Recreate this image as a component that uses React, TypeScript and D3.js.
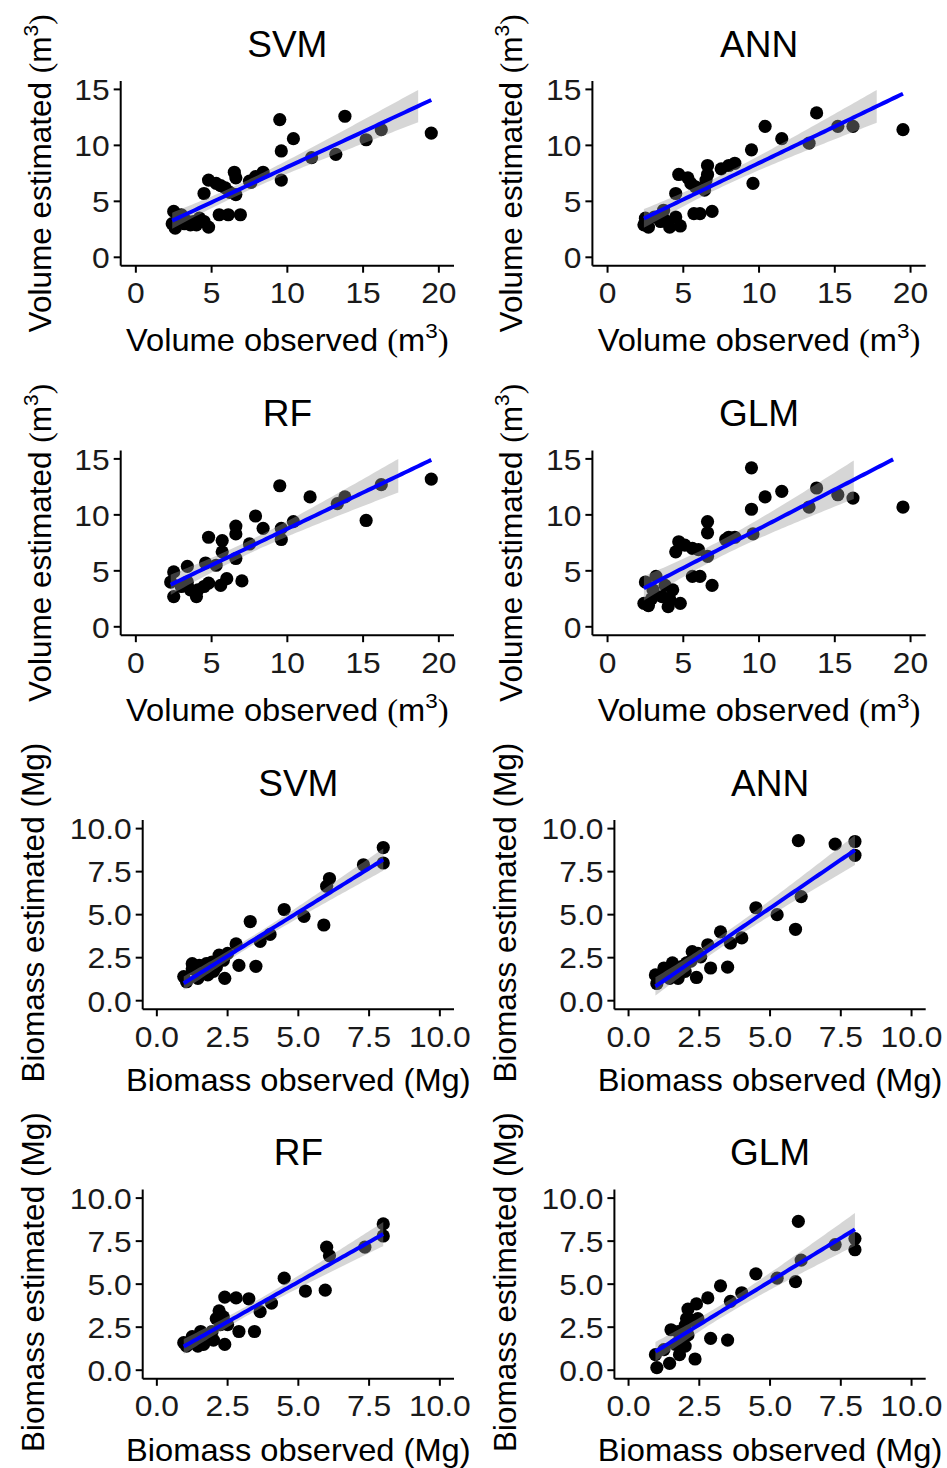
import React from 'react';
import * as d3 from 'd3';

// ---------- data (observed, estimated) ----------
const volSvmObs = [2.5,2.4,2.6,2.9,3.0,3.3,3.6,3.8,4.0,4.2,4.5,4.8,4.5,4.8,5.3,5.6,5.9,6.2,6.5,6.6,6.6,5.5,6.1,6.9,7.6,7.9,8.4,7.5,9.5,9.6,9.6,10.4,11.6,13.2,13.8,15.2,16.2,19.5,3.2,2.8];
const volSvmEst = [4.1,3.0,2.6,3.6,3.8,3.3,2.9,3.2,2.9,3.5,3.2,2.7,5.7,6.9,6.6,6.4,6.2,5.8,7.6,7.1,5.6,3.8,3.8,3.8,6.7,7.2,7.6,6.8,12.3,9.5,6.9,10.6,8.9,9.2,12.6,10.5,11.4,11.1,3.0,3.4];

const volAnnObs = [13.8,10.4,11.5,19.5,15.2,16.2,13.3,9.5,9.6,8.4,8.0,7.5,6.6,6.6,6.5,6.4,4.7,5.3,5.5,5.8,4.5,5.7,6.1,6.9,2.5,2.4,2.7,3.1,3.7,3.8,4.1,4.5,4.8,3.5];
const volAnnEst = [12.9,11.7,10.6,11.4,11.7,11.7,10.2,9.6,6.6,8.4,8.2,7.9,8.2,7.4,6.9,6.0,7.4,7.1,6.6,6.3,5.7,3.9,3.9,4.1,3.5,2.9,2.7,3.6,4.2,3.3,2.7,3.6,2.8,3.2];

const volRfObs = [9.5,11.5,19.5,15.2,16.2,13.8,13.3,10.4,9.6,9.6,7.9,8.4,7.5,6.6,6.6,6.6,5.7,4.8,5.7,5.3,4.6,3.4,2.5,2.3,2.5,3.0,3.4,4.0,4.1,4.8,5.6,6.0,7.0,3.6,4.5];
const volRfEst = [12.6,11.6,13.2,9.5,12.7,11.6,11.0,9.4,8.8,7.8,9.9,8.8,7.4,9.0,8.3,6.1,7.7,8.0,6.7,5.5,5.7,5.4,4.9,4.0,2.7,3.6,4.0,2.7,3.3,3.9,3.7,4.3,4.1,3.3,3.6];

const volGlmObs = [9.5,10.4,11.5,19.5,13.8,15.2,16.2,13.3,9.5,9.6,8.4,7.8,8.0,6.6,6.6,6.6,6.0,5.6,5.1,4.7,4.5,5.6,6.1,6.9,2.5,3.2,2.4,2.7,4.0,4.8,3.6,4.3,3.0,3.8,4.1,2.9];
const volGlmEst = [14.2,11.6,12.1,10.7,12.4,11.8,11.5,10.7,10.5,8.3,8.0,7.8,8.0,9.4,8.4,6.3,6.9,7.0,7.3,7.6,6.7,4.5,4.5,3.7,4.0,4.5,2.1,1.9,1.8,2.1,2.7,3.3,3.3,3.7,2.5,2.5];

const bioSvmObs = [8.0,8.0,7.3,6.1,6.0,5.9,5.2,4.5,3.3,4.0,3.65,3.5,2.9,2.8,2.4,2.5,2.2,2.35,1.95,2.0,1.5,1.65,1.25,1.45,0.95,1.05,1.25,1.75,2.1,1.8];
const bioSvmEst = [8.9,8.0,7.9,7.1,6.65,4.4,4.9,5.3,4.6,3.85,3.45,2.0,2.05,3.3,1.3,2.75,2.65,2.35,2.25,1.7,2.05,1.7,1.85,1.3,1.4,1.1,2.15,2.15,1.95,1.5];

const bioAnnObs = [6.0,7.3,8.0,8.0,6.1,5.9,5.25,4.5,3.25,4.0,3.6,3.5,2.9,2.8,2.4,2.45,2.25,2.55,2.05,2.0,1.55,1.65,1.25,1.45,0.95,1.0,1.9,1.75,1.2,2.2];
const bioAnnEst = [9.3,9.1,9.25,8.45,6.05,4.15,5.0,5.4,4.0,3.65,3.35,1.95,1.9,3.25,1.35,2.75,2.85,2.55,2.2,1.7,2.2,1.7,1.9,1.3,1.5,1.0,2.0,1.3,1.5,2.3];

const bioRfObs = [8.0,8.0,7.35,6.0,6.1,5.95,5.25,4.5,4.05,3.65,3.25,3.45,2.9,2.8,2.4,2.4,2.2,2.25,2.5,1.95,2.0,1.55,1.65,1.25,1.45,0.95,1.05,1.8,2.1,2.35];
const bioRfEst = [8.5,7.8,7.15,7.15,6.65,4.65,4.6,5.35,3.9,3.4,4.15,2.25,2.25,4.2,4.25,1.5,3.45,2.65,2.65,2.25,1.75,2.25,1.5,1.95,1.4,1.6,1.4,1.85,3.0,3.1];

const bioGlmObs = [6.0,7.3,8.0,8.0,6.1,5.9,5.25,4.5,3.25,4.0,3.6,3.5,2.9,2.8,2.4,2.35,2.1,2.45,1.5,1.0,0.95,1.45,1.8,2.0,2.1,1.8,2.0,2.25,1.25,1.65,1.75,2.05];
const bioGlmEst = [8.65,7.3,7.65,7.0,6.4,5.15,5.35,5.6,4.9,4.5,4.0,1.75,1.85,4.2,3.85,0.65,3.55,3.0,2.35,0.15,0.9,0.4,0.9,1.4,2.05,1.75,2.6,2.9,1.2,1.5,2.25,3.0];

const volTicks = [0, 5, 10, 15, 20];
const volYTicks = [0, 5, 10, 15];
const bioTicks = [0, 2.5, 5, 7.5, 10];
const volLimits = [0, 15];
const bioLimits = [0, 10];

const panels = [
  { title: 'SVM', kind: 'vol', obs: volSvmObs, est: volSvmEst },
  { title: 'ANN', kind: 'vol', obs: volAnnObs, est: volAnnEst },
  { title: 'RF', kind: 'vol', obs: volRfObs, est: volRfEst },
  { title: 'GLM', kind: 'vol', obs: volGlmObs, est: volGlmEst },
  { title: 'SVM', kind: 'bio', obs: bioSvmObs, est: bioSvmEst },
  { title: 'ANN', kind: 'bio', obs: bioAnnObs, est: bioAnnEst },
  { title: 'RF', kind: 'bio', obs: bioRfObs, est: bioRfEst },
  { title: 'GLM', kind: 'bio', obs: bioGlmObs, est: bioGlmEst },
];

// ---------- layout ----------
const COL_W = 471.7;
const ROW_H = 369.5;
const FONT = "'Liberation Sans', Arial, Helvetica, sans-serif";
const SERIF = "'Liberation Serif', 'Times New Roman', serif";

function tq(df: number) {
  return 1.96 + 2.37 / df + 2.8 / (df * df);
}

function smooth(xs: number[], ys: number[], lim: number[]) {
  const n = xs.length;
  const mx = d3.mean(xs) as number;
  const my = d3.mean(ys) as number;
  let sxx = 0, sxy = 0;
  for (let i = 0; i < n; i++) {
    sxx += (xs[i] - mx) ** 2;
    sxy += (xs[i] - mx) * (ys[i] - my);
  }
  const b = sxy / sxx;
  const a = my - b * mx;
  let sse = 0;
  for (let i = 0; i < n; i++) sse += (ys[i] - a - b * xs[i]) ** 2;
  const s = Math.sqrt(sse / (n - 2));
  const t = tq(n - 2);
  const [x0, x1] = d3.extent(xs) as [number, number];
  const rows = d3.range(80).map((i) => {
    const x = x0 + (i / 79) * (x1 - x0);
    const fit = a + b * x;
    const se = s * Math.sqrt(1 / n + (x - mx) ** 2 / sxx);
    return { x, fit, lo: fit - t * se, hi: fit + t * se };
  });
  const line = rows.filter((r) => r.fit >= lim[0] && r.fit <= lim[1]);
  const band = rows.filter((r) => r.lo >= lim[0] && r.hi <= lim[1]);
  return { line, band };
}

const TICK_FS = 30;
const TICK_SX = 1.06;
const AX_FS = 30.5;
const AX_SX = 1.07;
const YT_FS = 31.5;

function Panel({ p, ox, oy }: any) {
  const isVol = p.kind === 'vol';
  const left = isVol ? 120.7 : 142.7;
  const right = 454;
  const top = 81;
  const bottom = isVol ? 265.7 : 270.3;
  const xDom = isVol ? [-1, 21] : [-0.5, 10.5];
  const yDom = isVol ? [-0.75, 15.75] : [-0.5, 10.5];
  const x = d3.scaleLinear().domain(xDom).range([left, right]);
  const y = d3.scaleLinear().domain(yDom).range([bottom, top]);
  const xt = isVol ? volTicks : bioTicks;
  const yt = isVol ? volYTicks : bioTicks;
  const fmt = isVol ? (v: number) => String(v) : d3.format('.1f');
  const { line, band } = smooth(p.obs, p.est, isVol ? volLimits : bioLimits);
  const area = d3.area<any>().x((d) => x(d.x)).y0((d) => y(d.lo)).y1((d) => y(d.hi));
  const ln = d3.line<any>().x((d) => x(d.x)).y((d) => y(d.fit));
  const cx = (left + right) / 2;
  const cy = (top + bottom) / 2;
  const tickLen = 7;

  return (
    <g transform={`translate(${ox},${oy})`} fontFamily={FONT}>
      <text x={cx} y={56.5} textAnchor="middle" fontSize={37} fill="#000">{p.title}</text>
      {p.obs.map((o: number, i: number) => (
        <circle key={i} cx={x(o)} cy={y(p.est[i])} r={6.6} fill="#000" />
      ))}
      <path d={area(band) || ''} fill="#999999" fillOpacity={0.4} stroke="none" />
      <path d={ln(line) || ''} fill="none" stroke="#0000ff" strokeWidth={4} />
      <line x1={left} x2={left} y1={top} y2={bottom} stroke="#000" strokeWidth={2} />
      <line x1={left} x2={right} y1={bottom} y2={bottom} stroke="#000" strokeWidth={2} />
      {yt.map((v) => (
        <g key={'y' + v}>
          <line x1={left - tickLen} x2={left} y1={y(v)} y2={y(v)} stroke="#000" strokeWidth={2} />
          <text transform={`translate(${left - tickLen - 4},${y(v)}) scale(${TICK_SX},1)`} dy="0.36em" textAnchor="end" fontSize={TICK_FS} fill="#1a1a1a">{fmt(v)}</text>
        </g>
      ))}
      {xt.map((v) => (
        <g key={'x' + v}>
          <line x1={x(v)} x2={x(v)} y1={bottom} y2={bottom + tickLen} stroke="#000" strokeWidth={2} />
          <text transform={`translate(${x(v)},${bottom + 37.6}) scale(${TICK_SX},1)`} textAnchor="middle" fontSize={TICK_FS} fill="#1a1a1a">{fmt(v)}</text>
        </g>
      ))}
      {isVol ? (
        <>
          <text transform={`translate(${cx},351) scale(${AX_SX},1)`} textAnchor="middle" fontSize={AX_FS} fill="#000">
            {'Volume observed '}<tspan fontFamily={SERIF}>(</tspan>m<tspan fontSize={21} dy={-13}>3</tspan><tspan dy={13} fontFamily={SERIF}>)</tspan>
          </text>
          <text transform={`translate(50.5,${cy}) rotate(-90)`} textAnchor="middle" fontSize={YT_FS} fill="#000">
            {'Volume estimated '}<tspan fontFamily={SERIF}>(</tspan>m<tspan fontSize={21} dy={-13}>3</tspan><tspan dy={13} fontFamily={SERIF}>)</tspan>
          </text>
        </>
      ) : (
        <>
          <text transform={`translate(${cx},352) scale(${AX_SX},1)`} textAnchor="middle" fontSize={AX_FS} fill="#000">Biomass observed (Mg)</text>
          <text transform={`translate(44,${cy - 2}) rotate(-90)`} textAnchor="middle" fontSize={YT_FS} fill="#000">Biomass estimated (Mg)</text>
        </>
      )}
    </g>
  );
}

export default function App() {
  return (
    <svg width={947} height={1468} style={{ position: 'absolute', left: 0, top: 0, background: '#fff' }}>
      <rect width={947} height={1468} fill="#fff" />
      {panels.map((p, i) => (
        <Panel key={i} p={p} ox={(i % 2) * COL_W} oy={Math.floor(i / 2) * ROW_H} />
      ))}
    </svg>
  );
}
